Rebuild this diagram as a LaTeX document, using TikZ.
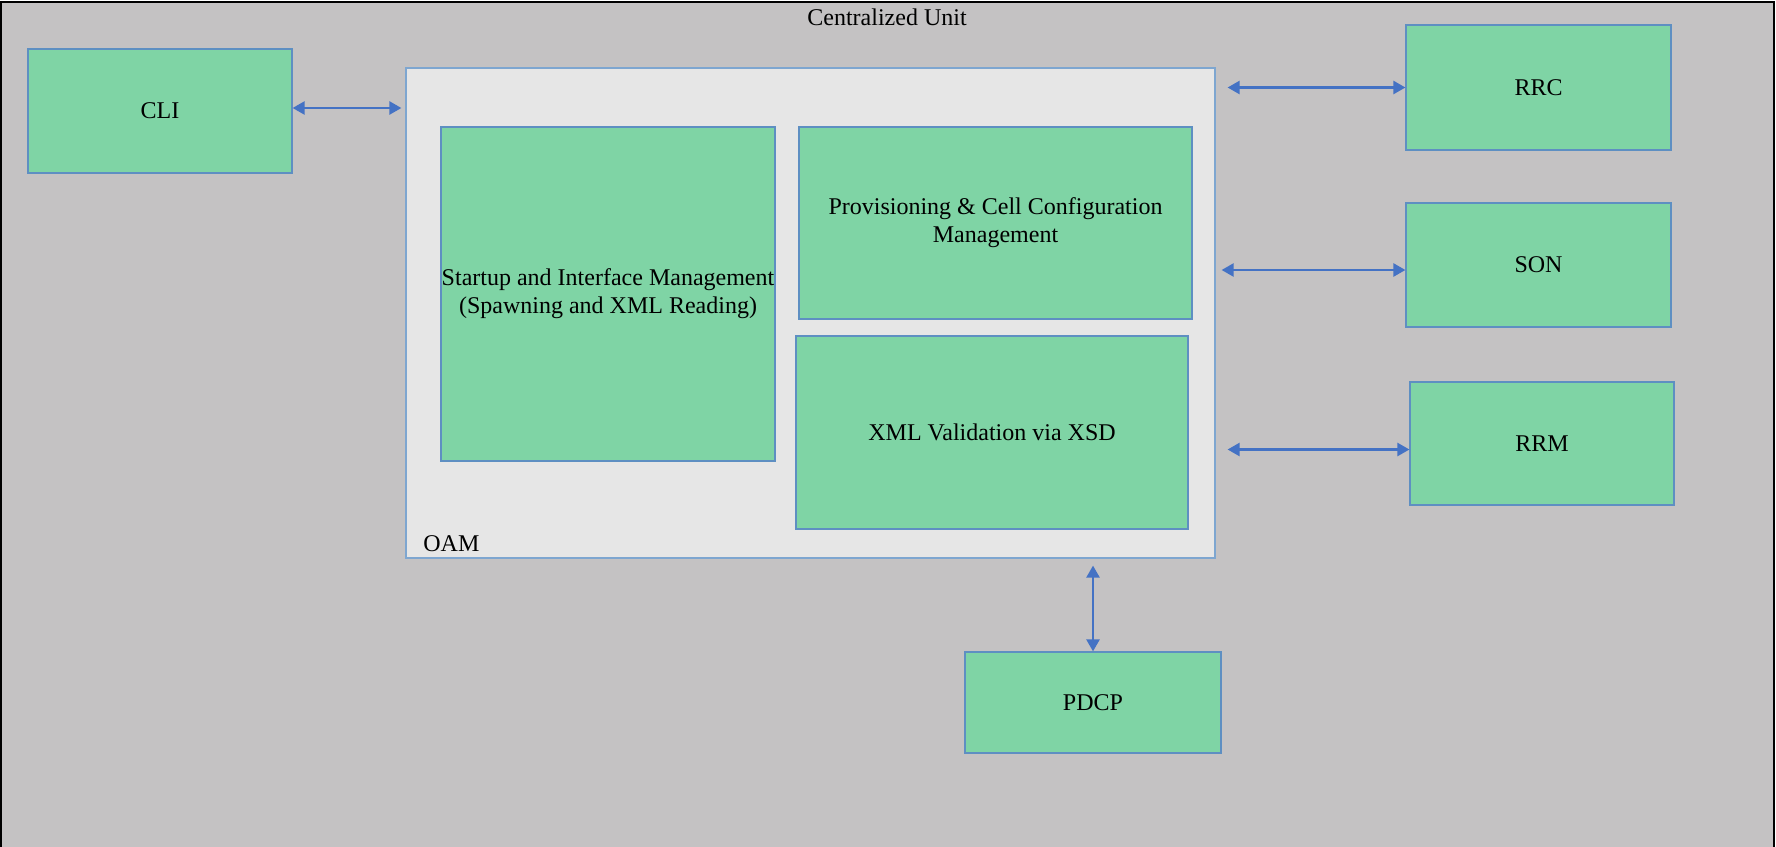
\documentclass[tikz,border=0pt]{standalone}
\usepackage{fontspec}
\setmainfont{Liberation Serif}
\usetikzlibrary{arrows.meta}

\definecolor{cugray}{HTML}{C4C2C3}
\definecolor{oamfill}{HTML}{E6E6E6}
\definecolor{oamline}{HTML}{7EA6D0}
\definecolor{boxgreen}{HTML}{7FD4A5}
\definecolor{boxline}{HTML}{5E8FC2}
\definecolor{linkblue}{HTML}{4472C4}

\tikzset{
  block/.style={draw=boxline, fill=boxgreen, line width=0.6pt, inner sep=0pt,
    align=center, font=\fontsize{12}{14}\selectfont},
  link/.style={linkblue, line width=1.2pt, {Triangle[length=6pt,width=6.5pt]}-{Triangle[length=6pt,width=6.5pt]}}
}

\begin{document}
\begin{tikzpicture}[x=0.5pt, y=-0.5pt]
\useasboundingbox (0,0) rectangle (1776,846);
\begin{scope}
\clip (0,0) rectangle (1776,846);
\draw[fill=cugray, line width=1.4pt] (1,2) rectangle (1774,870);
\end{scope}

\node[font=\fontsize{12}{14}\selectfont] (cu) at (887,17) {Centralized Unit};

% OAM container
\node[draw=oamline, fill=oamfill, line width=0.6pt, minimum width=404.5pt, minimum height=245pt] (oam) at (810.5,313) {};
\node[anchor=west, font=\fontsize{12}{14}\selectfont, inner sep=0pt] (oamlabel) at (423,544) {OAM};

\node[block, minimum width=167pt, minimum height=167pt] (startup) at (608,294)
  {Startup and Interface Management\\(Spawning and XML Reading)};
\node[block, minimum width=196.5pt, minimum height=96pt] (prov) at (995.5,223)
  {Provisioning \& Cell Configuration\\Management};
\node[block, minimum width=196pt, minimum height=96.5pt] (xmlv) at (992,432.5)
  {XML Validation via XSD};

% outer blocks
\node[block, minimum width=132pt, minimum height=62pt] (cli) at (160,111) {CLI};
\node[block, minimum width=132.5pt, minimum height=62.5pt] (rrc) at (1538.5,87.5) {RRC};
\node[block, minimum width=132.5pt, minimum height=62pt] (son) at (1538.5,265) {SON};
\node[block, minimum width=132pt, minimum height=61.5pt] (rrm) at (1542,443.5) {RRM};
\node[block, minimum width=128pt, minimum height=50.5pt] (pdcp) at (1093,702.5) {PDCP};

\draw[link, shorten >=2pt] ([yshift=1.5pt]cli.east) -- ([yshift=1.5pt]cli.east -| oam.west);
\draw[link, shorten >=6pt] (rrc.west) -- (rrc.west -| oam.east);
\draw[link, shorten >=3pt] ([yshift=-2.5pt]son.west) -- ([yshift=-2.5pt]son.west -| oam.east);
\draw[link, shorten >=6pt] ([yshift=-3pt]rrm.west) -- ([yshift=-3pt]rrm.west -| oam.east);
\draw[link, shorten >=3.5pt] (pdcp.north) -- (pdcp.north |- oam.south);
\end{tikzpicture}
\end{document}
